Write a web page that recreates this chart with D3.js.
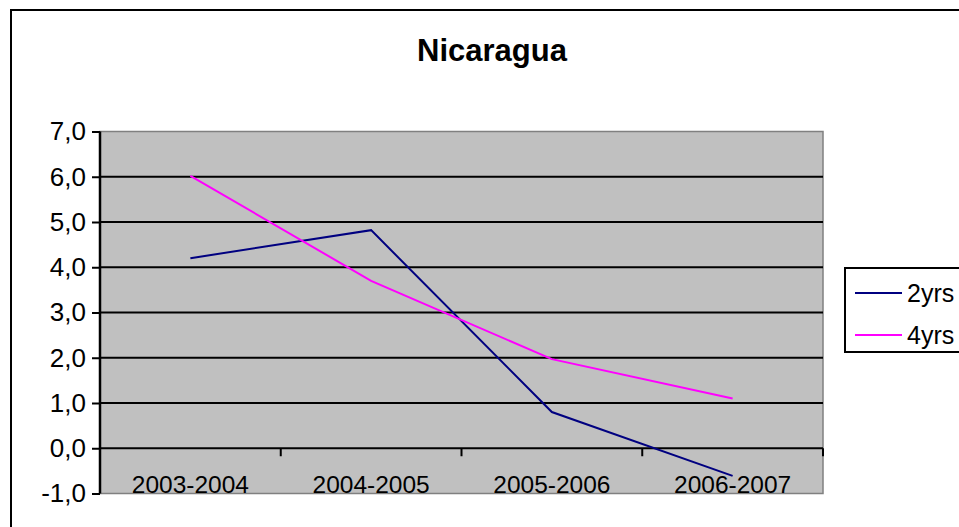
<!DOCTYPE html>
<html><head><meta charset="utf-8">
<script src="https://cdn.jsdelivr.net/npm/d3@7"></script>
<style>body{margin:0;background:#fff}svg{display:block}text{font-family:Arial,"Liberation Sans",sans-serif}</style>
</head><body><svg id="c" width="959" height="527"></svg>
<script>
const categories = ["2003-2004","2004-2005","2005-2006","2006-2007"];
const series2yrs = [4.20, 4.82, 0.80, -0.61];
const series4yrs = [6.02, 3.70, 1.97, 1.10];
const yTicks = [-1,0,1,2,3,4,5,6,7];
const seriesNames = ["2yrs","4yrs"];
const seriesColors = ["#000080","#FF00FF"];

const svg = d3.select("#c");
const L=100, R=823, T=131.5, B=493.5;
svg.append("rect").attr("x",11).attr("y",10).attr("width",960).attr("height",530)
  .attr("fill","#fff").attr("stroke","#000").attr("stroke-width",2);

const x = d3.scaleBand().domain(categories).range([L,R]);
const y = d3.scaleLinear().domain([-1,7]).range([B,T]);

svg.append("rect").attr("x",L).attr("y",T).attr("width",R-L).attr("height",B-T)
  .attr("fill","#C0C0C0").attr("stroke","#808080").attr("stroke-width",1.5);

// gridlines
svg.append("g").selectAll("line").data(yTicks.filter(d=>d>-1 && d<7)).join("line")
  .attr("x1",L).attr("x2",R).attr("y1",d=>y(d)).attr("y2",d=>y(d))
  .attr("stroke","#000").attr("stroke-width",2);

// y axis
const ya = svg.append("g").attr("transform",`translate(${L},0)`)
  .call(d3.axisLeft(y).tickValues(yTicks).tickSize(8).tickPadding(6)
    .tickFormat(d=>d.toFixed(1).replace(".",",")));
ya.select(".domain").attr("stroke","#000").attr("stroke-width",2.5).attr("d",`M0,${T}V${B}`);
ya.selectAll(".tick line").attr("stroke","#000").attr("stroke-width",2);
ya.selectAll("text").attr("font-size",26).attr("fill","#000").attr("font-family","Arial, Liberation Sans, sans-serif");

// x axis at zero
const xa = svg.append("g").attr("transform",`translate(0,${y(0)})`)
  .call(d3.axisBottom(x).tickSize(0).tickFormat(""));
xa.select(".domain").remove();
const bounds = categories.map(c=>x(c)+x.bandwidth());
svg.append("g").selectAll("line").data(bounds).join("line")
  .attr("x1",d=>d).attr("x2",d=>d).attr("y1",y(0)).attr("y2",y(0)+8)
  .attr("stroke","#000").attr("stroke-width",2);
svg.append("g").selectAll("text").data(categories).join("text")
  .attr("x",d=>x(d)+x.bandwidth()/2).attr("y",B-1)
  .attr("text-anchor","middle").attr("font-size",24.5).attr("fill","#000").text(d=>d);

// lines
const line = d3.line().x((d,i)=>x(categories[i])+x.bandwidth()/2).y(d=>y(d));
[series2yrs, series4yrs].forEach((s,k)=>{
  svg.append("path").datum(s).attr("d",line).attr("fill","none")
    .attr("stroke",seriesColors[k]).attr("stroke-width",2);
});

// title
svg.append("text").attr("x",492).attr("y",61).attr("text-anchor","middle")
  .attr("font-size",31).attr("font-weight","bold").attr("fill","#000").text("Nicaragua");

// legend
svg.append("rect").attr("x",845).attr("y",268).attr("width",130).attr("height",84)
  .attr("fill","#fff").attr("stroke","#000").attr("stroke-width",2);
const lg = svg.append("g").selectAll("g").data(seriesNames).join("g")
  .attr("transform",(d,i)=>`translate(0,${293+i*42})`);
lg.append("line").attr("x1",855).attr("x2",902).attr("y1",0).attr("y2",0)
  .attr("stroke",(d,i)=>seriesColors[i]).attr("stroke-width",2);
lg.append("text").attr("x",907).attr("y",9).attr("font-size",25).attr("fill","#000").text(d=>d);
</script></body></html>
